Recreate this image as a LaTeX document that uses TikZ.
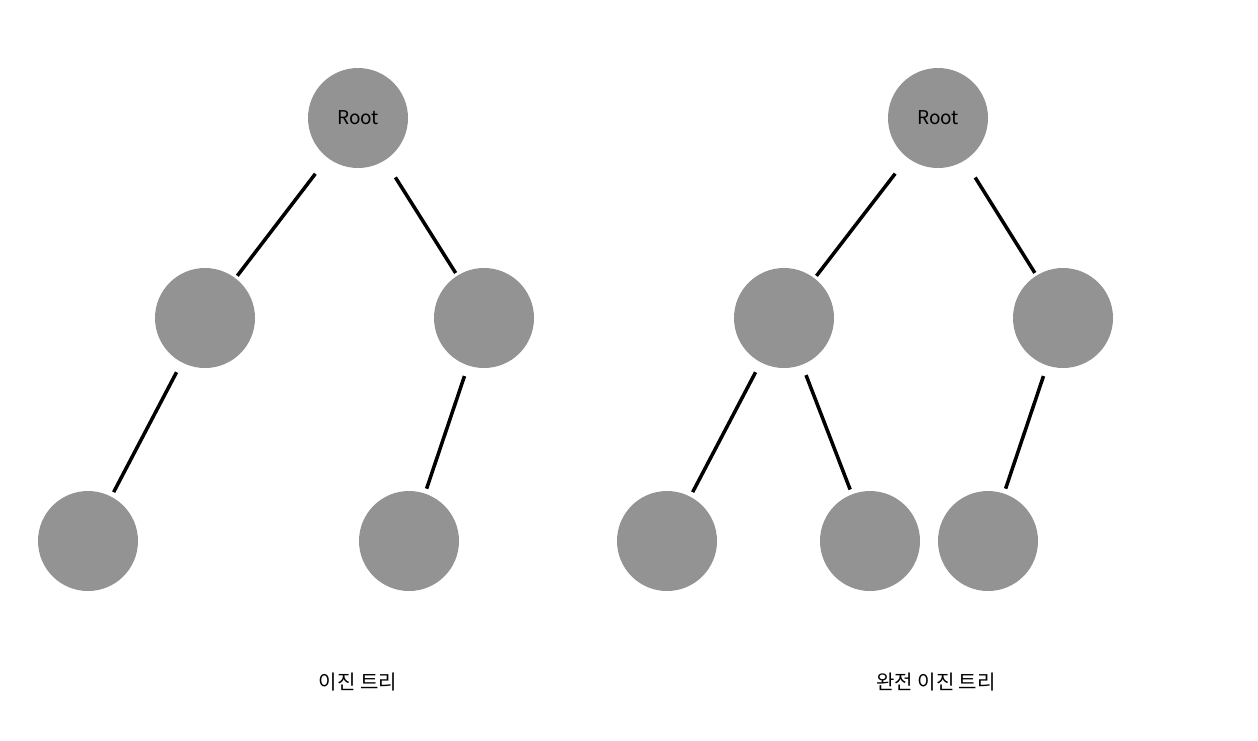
\documentclass[tikz,border=0pt]{standalone}
\usepackage{fontspec}
\newfontfamily\kr{Noto Sans CJK KR}
\begin{document}
\begin{tikzpicture}[x=1pt,y=-1pt,
  nd/.style={circle,fill={rgb,255:red,147;green,147;blue,147},minimum size=100pt,inner sep=0pt,font=\kr\fontsize{19}{19}\selectfont},
  top/.style={line width=3.5pt,shorten <=20pt,shorten >=3pt},
  low/.style={line width=3.5pt,shorten <=11pt,shorten >=5pt},
  lab/.style={font=\kr\fontsize{20}{20}\selectfont}]
\useasboundingbox (0,0) rectangle (1258,740);
\node[nd] (a) at (358,118) {Root};
\node[nd] (a1) at (205,318) {};
\node[nd] (a2) at (484,318) {};
\node[nd] (a3) at (88,541) {};
\node[nd] (a4) at (409,541) {};
\draw[top] (a) -- (a1);
\draw[top] (a) -- (a2);
\draw[low] (a1) -- (a3);
\draw[low] (a2) -- (a4);
\node[nd] (b) at (938,118) {Root};
\node[nd] (b1) at (784,318) {};
\node[nd] (b2) at (1063,318) {};
\node[nd] (b3) at (667,541) {};
\node[nd] (b4) at (870,541) {};
\node[nd] (b5) at (988,541) {};
\draw[top] (b) -- (b1);
\draw[top] (b) -- (b2);
\draw[low] (b1) -- (b3);
\draw[low] (b1) -- (b4);
\draw[low] (b2) -- (b5);
\node[lab] (t1) at (358,682) {이진 트리};
\node[lab] (t2) at (936,682) {완전 이진 트리};
\end{tikzpicture}
\end{document}
